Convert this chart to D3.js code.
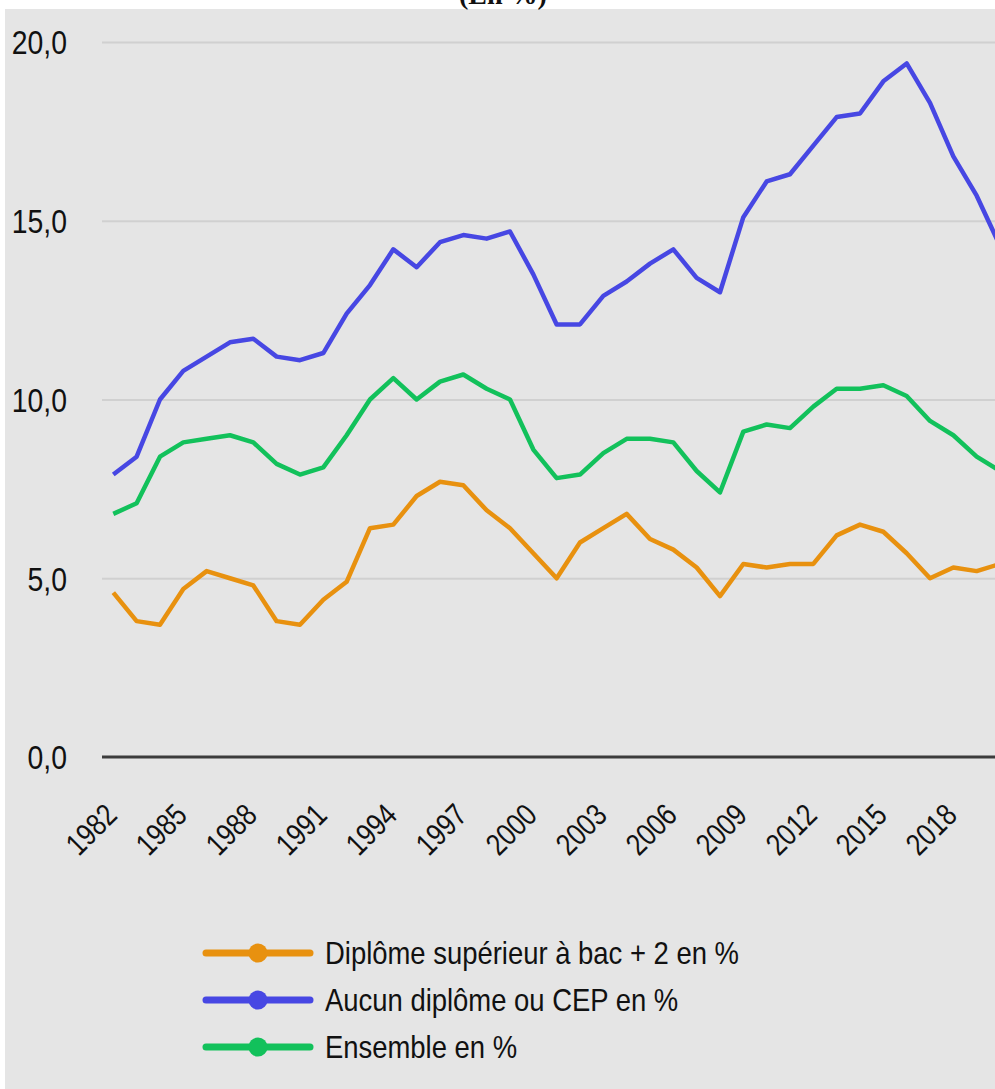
<!DOCTYPE html>
<html><head><meta charset="utf-8">
<script src="https://cdn.jsdelivr.net/npm/d3@7"></script>
<style>
html,body{margin:0;padding:0;background:#fff;}
svg{display:block;}
</style></head>
<body>
<svg id="c" width="995" height="1089"></svg>
<script>
const years = d3.range(1982, 2021);
const superieur = [4.6,3.8,3.7,4.7,5.2,5.0,4.8,3.8,3.7,4.4,4.9,6.4,6.5,7.3,7.7,7.6,6.9,6.4,5.7,5.0,6.0,6.4,6.8,6.1,5.8,5.3,4.5,5.4,5.3,5.4,5.4,6.2,6.5,6.3,5.7,5.0,5.3,5.2,5.4];
const aucun = [7.9,8.4,10.0,10.8,11.2,11.6,11.7,11.2,11.1,11.3,12.4,13.2,14.2,13.7,14.4,14.6,14.5,14.7,13.5,12.1,12.1,12.9,13.3,13.8,14.2,13.4,13.0,15.1,16.1,16.3,17.1,17.9,18.0,18.9,19.4,18.3,16.8,15.7,14.3];
const ensemble = [6.8,7.1,8.4,8.8,8.9,9.0,8.8,8.2,7.9,8.1,9.0,10.0,10.6,10.0,10.5,10.7,10.3,10.0,8.6,7.8,7.9,8.5,8.9,8.9,8.8,8.0,7.4,9.1,9.3,9.2,9.8,10.3,10.3,10.4,10.1,9.4,9.0,8.4,8.0];
const yTicks = [0,5,10,15,20];
const xTicks = d3.range(1982, 2019, 3);
const seriesNames = ["Diplôme supérieur à bac + 2 en %","Aucun diplôme ou CEP en %","Ensemble en %"];
const seriesColors = ["#e8910f","#4747e3","#12c15b"];
const seriesData = [superieur, aucun, ensemble];
const title = "(En %)";

const svg = d3.select("#c");
svg.append("rect").attr("x",5).attr("y",9).attr("width",990).attr("height",1080).attr("fill","#e5e5e5");
svg.append("text").attr("x",503).attr("y",4).attr("text-anchor","middle")
  .attr("font-family","'Liberation Serif','Times New Roman',serif").attr("font-weight","bold")
  .attr("font-size",28).attr("fill","#111").text(title);

const x = d3.scaleLinear().domain([1982, 2020]).range([113.3, 1000]);
const y = d3.scaleLinear().domain([0, 20]).range([757, 42]);
const loc = d3.formatLocale({decimal:",", thousands:" ", grouping:[3], currency:["","€"]});
const fmt = loc.format(".1f");
const tickFont = "'Liberation Sans','Arial',sans-serif";

// grid
const grid = svg.append("g").attr("transform","translate(102,0)")
  .call(d3.axisLeft(y).tickValues(yTicks.filter(d=>d>0)).tickSize(-900).tickFormat(""));
grid.select(".domain").remove();
grid.selectAll("line").attr("stroke","#d0d0d0").attr("stroke-width",2);

// y labels
const ya = svg.append("g").attr("transform","translate(67,0)")
  .call(d3.axisLeft(y).tickValues(yTicks).tickSize(0).tickPadding(0).tickFormat(fmt));
ya.select(".domain").remove();
ya.selectAll("text").attr("font-family",tickFont).attr("font-size",33).attr("fill","#111")
  .attr("x",0).attr("dy","0.36em").attr("transform","scale(0.86,1)");

// baseline
svg.append("line").attr("x1",102).attr("x2",995).attr("y1",y(0)).attr("y2",y(0))
  .attr("stroke","#3c3c3c").attr("stroke-width",3);

// x labels
const xa = svg.append("g").attr("transform",`translate(0,${y(0)})`)
  .call(d3.axisBottom(x).tickValues(xTicks).tickSize(0).tickFormat(d=>String(d)));
xa.select(".domain").remove();
xa.selectAll("text").attr("font-family",tickFont).attr("font-size",31).attr("fill","#111")
  .attr("text-anchor","end").attr("dy",null).attr("y",null)
  .attr("transform","translate(5,60) rotate(-45) scale(0.82,1)");

// lines
const line = d3.line().x((d,i)=>x(years[i])).y(d=>y(d));
svg.append("clipPath").attr("id","clip").append("rect").attr("x",0).attr("y",0).attr("width",995).attr("height",1089);
const lg = svg.append("g").attr("clip-path","url(#clip)");
seriesData.forEach((s,i)=>{
  lg.append("path").datum(s).attr("d",line).attr("fill","none")
    .attr("stroke",seriesColors[i]).attr("stroke-width",4.5).attr("stroke-linejoin","round");
});

// legend
const legY = [953, 1000, 1047];
seriesNames.forEach((n,i)=>{
  const g = svg.append("g");
  g.append("line").attr("x1",206).attr("x2",310).attr("y1",legY[i]).attr("y2",legY[i])
    .attr("stroke",seriesColors[i]).attr("stroke-width",7).attr("stroke-linecap","round");
  g.append("circle").attr("cx",258).attr("cy",legY[i]).attr("r",9.5).attr("fill",seriesColors[i]);
  g.append("text").attr("transform",`translate(325,${legY[i]}) scale(0.885,1)`).attr("dy","0.36em")
    .attr("font-family",tickFont).attr("font-size",31).attr("fill","#111").text(n);
});
</script>
</body></html>
